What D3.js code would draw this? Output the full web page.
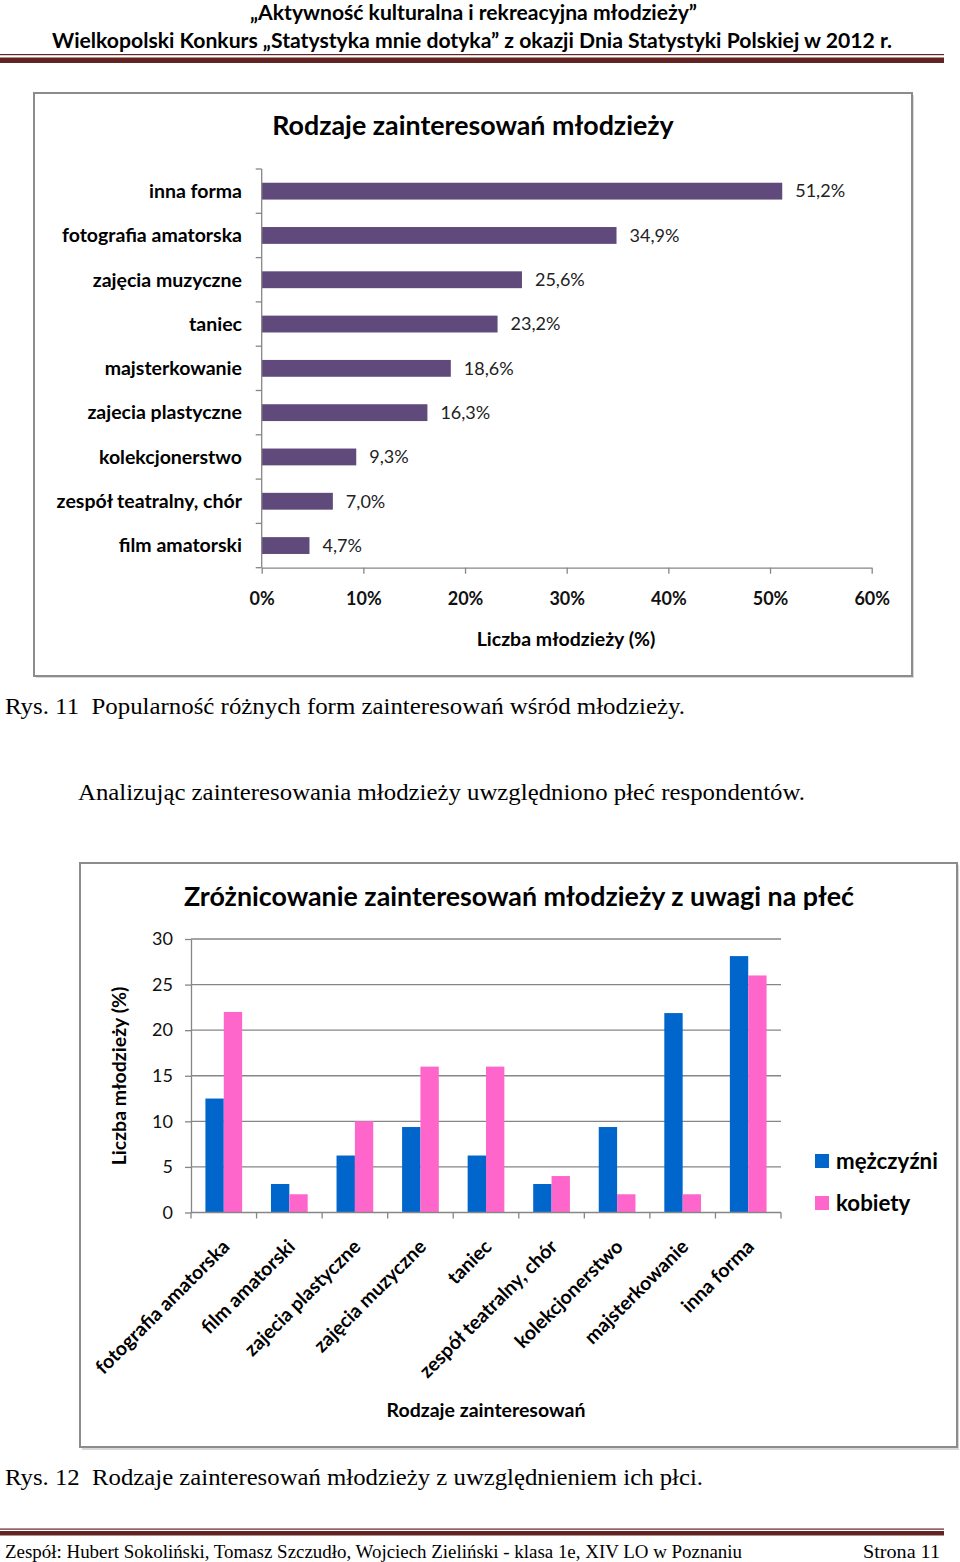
<!DOCTYPE html>
<html><head><meta charset="utf-8">
<script src="https://cdn.jsdelivr.net/npm/d3@7"></script>
<style>body{margin:0;background:#fff}svg{display:block}</style>
</head><body>
<script>
// ---------- DATA ----------
const chart1Title = "Rodzaje zainteresowań młodzieży";
const chart1Categories = ["inna forma","fotografia amatorska","zajęcia muzyczne","taniec","majsterkowanie","zajecia plastyczne","kolekcjonerstwo","zespół teatralny, chór","film amatorski"];
const chart1Values = [0.512,0.349,0.256,0.232,0.186,0.163,0.093,0.070,0.047];
const chart1Ticks = [0,0.1,0.2,0.3,0.4,0.5,0.6];
const chart1AxisTitle = "Liczba młodzieży (%)";

const chart2Title = "Zróżnicowanie zainteresowań młodzieży z uwagi na płeć";
const chart2Categories = ["fotografia amatorska","film amatorski","zajecia plastyczne","zajęcia muzyczne","taniec","zespół teatralny, chór","kolekcjonerstwo","majsterkowanie","inna forma"];
const seriesNames = ["mężczyźni","kobiety"];
const menValues = [12.5,3.125,6.25,9.375,6.25,3.125,9.375,21.875,28.125];
const womenValues = [22,2,10,16,16,4,2,2,26];
const chart2Ticks = [0,5,10,15,20,25,30];
const chart2YTitle = "Liczba młodzieży (%)";
const chart2XTitle = "Rodzaje zainteresowań";

const header1 = "„Aktywność kulturalna i rekreacyjna młodzieży”";
const header2 = "Wielkopolski Konkurs „Statystyka mnie dotyka” z okazji Dnia Statystyki Polskiej w 2012 r.";
const caption1 = "Rys. 11  Popularność różnych form zainteresowań wśród młodzieży.";
const bodyText = "Analizując zainteresowania młodzieży uwzględniono płeć respondentów.";
const caption2 = "Rys. 12  Rodzaje zainteresowań młodzieży z uwzględnieniem ich płci.";
const footerLeft = "Zespół: Hubert Sokoliński, Tomasz Szczudło, Wojciech Zieliński - klasa 1e, XIV LO w Poznaniu";
const footerRight = "Strona 11";

// ---------- PAGE ----------
const W = 960, H = 1562;
const svg = d3.select("body").append("svg").attr("width", W).attr("height", H);
const sans = "Lato, 'Open Sans', sans-serif";
const serif = "'Liberation Serif', 'DejaVu Serif', serif";
const lineCol = "#622423";
const axisCol = "#868686";
const LBL = 19.5;

function fitText(x, y, txt, len, size, weight, family, anchor) {
  return svg.append("text").attr("x", x).attr("y", y).text(txt)
    .attr("font-family", family).attr("font-size", size).attr("font-weight", weight)
    .attr("text-anchor", anchor || "start").style("white-space", "pre")
    .attr("textLength", len).attr("lengthAdjust", "spacingAndGlyphs");
}

// header
fitText(250, 20, header1, 447, 21, "bold", sans);
fitText(52, 48, header2, 840, 21, "bold", sans);
svg.append("rect").attr("x", 0).attr("y", 54).attr("width", 944).attr("height", 1.2).attr("fill", lineCol);
svg.append("rect").attr("x", 0).attr("y", 57.5).attr("width", 944).attr("height", 5.5).attr("fill", lineCol);

// footer
svg.append("rect").attr("x", 0).attr("y", 1528.5).attr("width", 944).attr("height", 1.2).attr("fill", lineCol);
svg.append("rect").attr("x", 0).attr("y", 1531).attr("width", 944).attr("height", 4.5).attr("fill", lineCol);
fitText(5, 1558, footerLeft, 737, 19, "normal", serif);
fitText(863, 1558, footerRight, 77, 19, "normal", serif);

// captions
fitText(5, 714, caption1, 680, 23, "normal", serif);
fitText(78, 800, bodyText, 727, 23, "normal", serif);
fitText(5, 1485, caption2, 698, 23, "normal", serif);

// ---------- CHART 1 ----------
svg.append("rect").attr("x", 36).attr("y", 95).attr("width", 878).attr("height", 583).attr("fill", "#d8d8d8");
svg.append("rect").attr("x", 34).attr("y", 93).attr("width", 878).attr("height", 583)
  .attr("fill", "#fff").attr("stroke", "#8c8c8c").attr("stroke-width", 2);

const c1 = svg.append("g");
c1.append("text").attr("x", 473).attr("y", 135).attr("text-anchor", "middle")
  .attr("font-family", sans).attr("font-weight", "bold").attr("font-size", 26.8).text(chart1Title);

const x1 = d3.scaleLinear().domain([0, 0.6]).range([261.7, 871.7]);
const y1 = d3.scaleBand().domain(chart1Categories).range([169, 567.7]).paddingInner(0.62).paddingOuter(0.31);
const step1 = y1.step();

c1.selectAll("rect.bar").data(chart1Categories).join("rect").attr("class", "bar")
  .attr("x", x1(0)).attr("y", d => y1(d))
  .attr("width", (d, i) => x1(chart1Values[i]) - x1(0))
  .attr("height", y1.bandwidth()).attr("fill", "#604A7B");

c1.selectAll("text.val").data(chart1Categories).join("text").attr("class", "val")
  .attr("x", (d, i) => x1(chart1Values[i]) + 13)
  .attr("y", d => y1(d) + y1.bandwidth() / 2).attr("dy", "0.35em")
  .attr("font-family", sans).attr("font-size", 18).attr("fill", "#222")
  .text((d, i) => d3.format(".1f")(chart1Values[i] * 100).replace(".", ",") + "%");

c1.selectAll("text.cat").data(chart1Categories).join("text").attr("class", "cat")
  .attr("x", 242).attr("y", d => y1(d) + y1.bandwidth() / 2).attr("dy", "0.35em")
  .attr("text-anchor", "end").attr("font-family", sans).attr("font-weight", "bold").attr("font-size", LBL)
  .text(d => d);

// y axis line + boundary ticks
const yb = d3.range(chart1Categories.length + 1).map(i => 169 + i * step1);
c1.append("line").attr("x1", x1(0)).attr("x2", x1(0)).attr("y1", 169).attr("y2", 567.7).attr("stroke", axisCol).attr("stroke-width", 1.3);
c1.selectAll("line.yt").data(yb).join("line").attr("class", "yt")
  .attr("x1", x1(0) - 6).attr("x2", x1(0)).attr("y1", d => d).attr("y2", d => d).attr("stroke", axisCol).attr("stroke-width", 1.3);

const ax1 = c1.append("g").attr("transform", "translate(0,567.7)")
  .call(d3.axisBottom(x1).tickValues(chart1Ticks).tickFormat(d3.format(".0%")).tickSize(6).tickSizeOuter(0).tickPadding(19));
ax1.select(".domain").attr("stroke", axisCol).attr("stroke-width", 1.3);
ax1.selectAll(".tick line").attr("stroke", axisCol).attr("stroke-width", 1.3);
ax1.selectAll(".tick text").attr("font-family", sans).attr("font-weight", "bold").attr("font-size", 18).attr("fill", "#111");

c1.append("text").attr("x", 566).attr("y", 646).attr("text-anchor", "middle")
  .attr("font-family", sans).attr("font-weight", "bold").attr("font-size", LBL).text(chart1AxisTitle);

// ---------- CHART 2 ----------
svg.append("rect").attr("x", 82).attr("y", 865).attr("width", 877).attr("height", 585).attr("fill", "#d8d8d8");
svg.append("rect").attr("x", 80).attr("y", 863).attr("width", 877).attr("height", 584)
  .attr("fill", "#fff").attr("stroke", "#8c8c8c").attr("stroke-width", 2);

const c2 = svg.append("g");
c2.append("text").attr("x", 519).attr("y", 906).attr("text-anchor", "middle")
  .attr("font-family", sans).attr("font-weight", "bold").attr("font-size", 26.8).text(chart2Title);

const x2 = d3.scaleBand().domain(chart2Categories).range([191, 781]).paddingInner(0.44).paddingOuter(0.22);
const xs = d3.scaleBand().domain(seriesNames).range([0, x2.bandwidth()]);
const y2 = d3.scaleLinear().domain([0, 30]).range([1212.5, 939]);
const step2 = x2.step();

const yAx = c2.append("g").attr("transform", "translate(191,0)")
  .call(d3.axisLeft(y2).tickValues(chart2Ticks).tickSize(6).tickSizeOuter(0).tickPadding(12));
yAx.select(".domain").attr("stroke", axisCol).attr("stroke-width", 1.3);
yAx.selectAll(".tick line").attr("stroke", axisCol).attr("stroke-width", 1.3);
yAx.selectAll(".tick text").attr("font-family", sans).attr("font-size", 18).attr("fill", "#111");
c2.selectAll("line.grid").data(chart2Ticks.filter(t => t > 0)).join("line").attr("class", "grid")
  .attr("x1", 191).attr("x2", 781).attr("y1", d => y2(d)).attr("y2", d => y2(d))
  .attr("stroke", axisCol).attr("stroke-width", 1.3);

const groups = c2.selectAll("g.grp").data(chart2Categories).join("g").attr("class", "grp")
  .attr("transform", d => `translate(${x2(d)},0)`);
groups.append("rect").attr("x", xs(seriesNames[0])).attr("width", xs.bandwidth())
  .attr("y", (d, i) => y2(menValues[i])).attr("height", (d, i) => y2(0) - y2(menValues[i])).attr("fill", "#0066CC");
groups.append("rect").attr("x", xs(seriesNames[1])).attr("width", xs.bandwidth())
  .attr("y", (d, i) => y2(womenValues[i])).attr("height", (d, i) => y2(0) - y2(womenValues[i])).attr("fill", "#FF66CC");

const xb = d3.range(chart2Categories.length + 1).map(i => 191 + i * step2);
c2.append("line").attr("x1", 191).attr("x2", 781).attr("y1", y2(0)).attr("y2", y2(0)).attr("stroke", axisCol).attr("stroke-width", 1.3);
c2.selectAll("line.xt").data(xb).join("line").attr("class", "xt")
  .attr("x1", d => d).attr("x2", d => d).attr("y1", y2(0)).attr("y2", y2(0) + 6).attr("stroke", axisCol).attr("stroke-width", 1.3);

c2.selectAll("text.xl").data(chart2Categories).join("text").attr("class", "xl")
  .attr("transform", d => `translate(${x2(d) + x2.bandwidth() / 2 + 7},1248) rotate(-45)`)
  .attr("text-anchor", "end").attr("font-family", sans).attr("font-weight", "bold").attr("font-size", LBL)
  .text(d => d);

c2.append("text").attr("transform", "translate(126,1076) rotate(-90)").attr("text-anchor", "middle")
  .attr("font-family", sans).attr("font-weight", "bold").attr("font-size", LBL).text(chart2YTitle);
c2.append("text").attr("x", 486).attr("y", 1417).attr("text-anchor", "middle")
  .attr("font-family", sans).attr("font-weight", "bold").attr("font-size", LBL).text(chart2XTitle);

const legColors = ["#0066CC", "#FF66CC"];
const leg = c2.selectAll("g.leg").data(seriesNames).join("g").attr("class", "leg")
  .attr("transform", (d, i) => `translate(815,${1154 + i * 42})`);
leg.append("rect").attr("width", 14).attr("height", 14).attr("fill", (d, i) => legColors[i]);
leg.append("text").attr("x", 21).attr("y", 7).attr("dy", "0.35em")
  .attr("font-family", sans).attr("font-weight", "bold").attr("font-size", 22.3).text(d => d);
</script>
</body></html>
